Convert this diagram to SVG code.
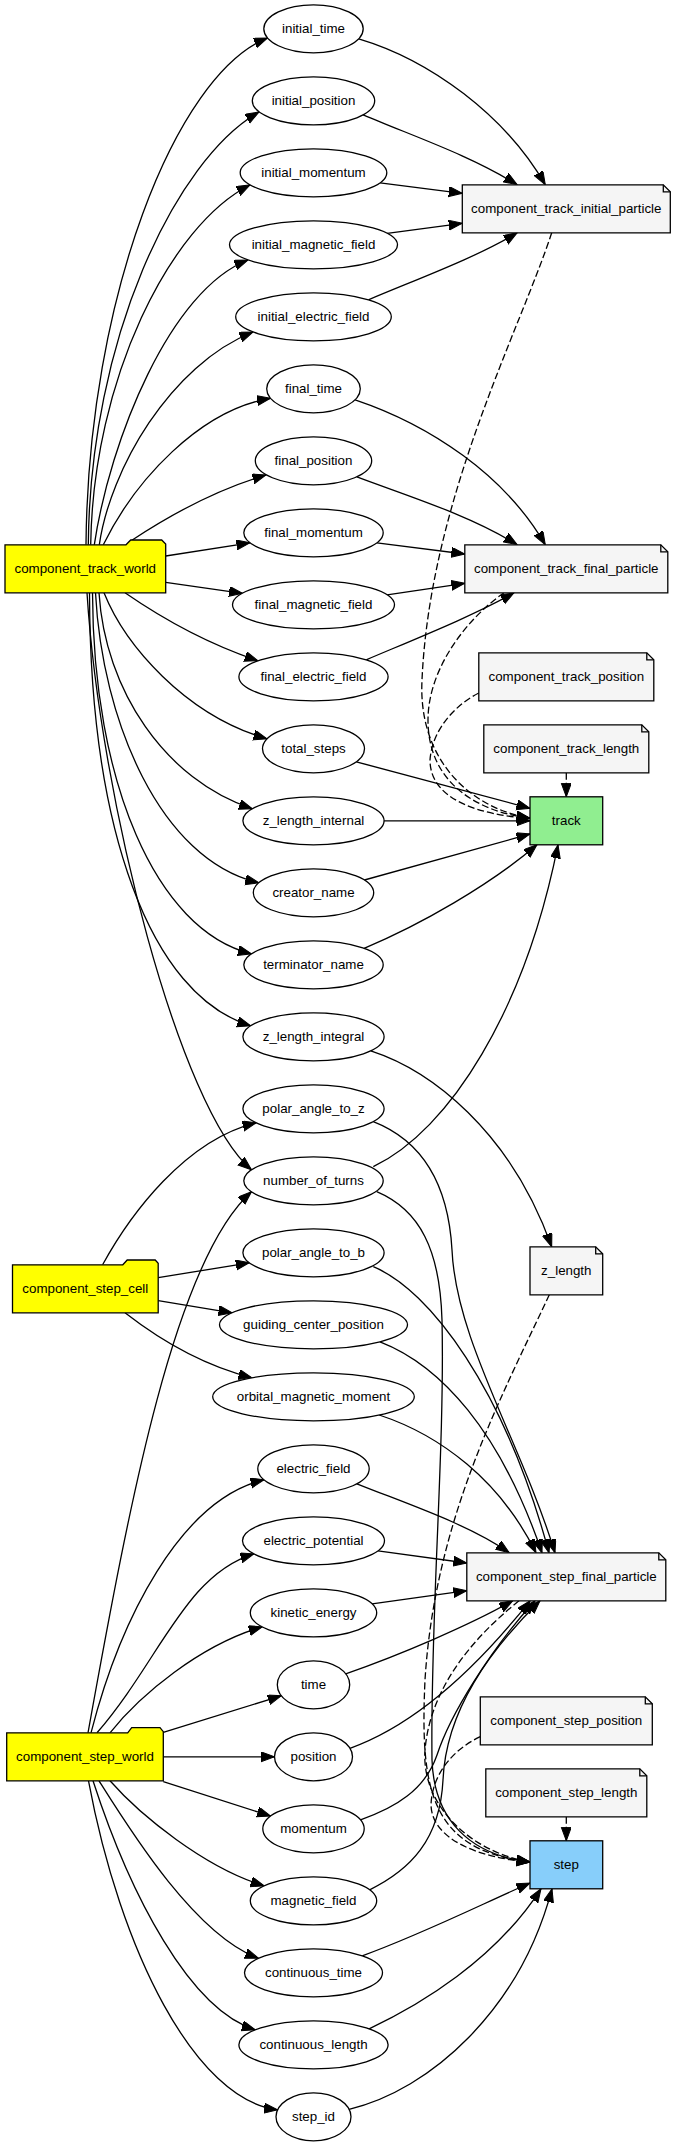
<svg xmlns="http://www.w3.org/2000/svg" width="676" height="2147" viewBox="0 0 676 2147">
<style>
.e{fill:none;stroke:#000;stroke-width:1.3;marker-end:url(#ah)}
.d{stroke-dasharray:7,3}
.el{fill:#fff;stroke:#000;stroke-width:1.3}
.nt{fill:#f5f5f5;stroke:#000;stroke-width:1.3}
.fd{fill:none;stroke:#000;stroke-width:1.3}
.fo{fill:#ffff00;stroke:#000;stroke-width:1.3}
.bx{stroke:#000;stroke-width:1.3}
text{font-family:"Liberation Sans",Arial,Helvetica,sans-serif;font-size:13.33px;text-anchor:middle;fill:#000}
</style>
<defs>
<marker id="ah" markerUnits="userSpaceOnUse" markerWidth="15" markerHeight="12" refX="13.5" refY="5" orient="auto"><path d="M0,0 L13.5,5 L0,10 Z" fill="#000" stroke="#000" stroke-width="1"/></marker>
</defs>
<rect width="676" height="2147" fill="#fff"/>
<g id="edges">
<path class="e" d="M86,544.8 C88,300 175,75 267.5,38"/>
<path class="e" d="M88.3,544.8 C90,340 175,160 259,112"/>
<path class="e" d="M90.7,544.8 C93,380 170,225 250,185"/>
<path class="e" d="M94.3,544.8 C110,440 170,290 248,260"/>
<path class="e" d="M99.3,544.8 C110,470 170,365 253,332"/>
<path class="e" d="M103.3,544.8 C135,480 200,410 270.5,398.3"/>
<path class="e" d="M131.5,540.5 C170,515 215,490 266,475"/>
<path class="e" d="M165.7,556 L250,542.8"/>
<path class="e" d="M165.7,582.3 L242.5,593.3"/>
<path class="e" d="M125,592.8 C160,617 205,643 258,660.8"/>
<path class="e" d="M104,592.8 C125,645 185,715 267,738.8"/>
<path class="e" d="M99,592.8 C105,690 165,780 252.4,808.8"/>
<path class="e" d="M95.5,592.8 C102,720 160,860 258.8,882.8"/>
<path class="e" d="M92.5,592.8 C93,780 155,930 251.5,953.8"/>
<path class="e" d="M89.5,592.8 C90,830 150,995 250.7,1025.8"/>
<path class="e" d="M87,592.8 C100,800 180,1110 251.5,1169.8"/>
<path class="e" d="M102.6,1264.8 C130,1215 185,1140 256.2,1122.8"/>
<path class="e" d="M158.2,1277.7 L249.3,1262.8"/>
<path class="e" d="M158.2,1300.7 L232.1,1312.8"/>
<path class="e" d="M125,1312.8 C160,1340 205,1366 252,1377.8"/>
<path class="e" d="M88,1732.8 C130,1500 175,1260 251.5,1191.8"/>
<path class="e" d="M91,1732.8 C120,1620 180,1500 264,1479.8"/>
<path class="e" d="M97,1732.8 C160,1660 185,1575 253.8,1553.8"/>
<path class="e" d="M110,1732.8 C140,1695 200,1645 262.2,1626.8"/>
<path class="e" d="M163.3,1732.3 L281.3,1695.8"/>
<path class="e" d="M163.3,1756.8 L274.5,1756.8"/>
<path class="e" d="M163.3,1781.7 L270.6,1816"/>
<path class="e" d="M110,1780.8 C140,1815 205,1868 264.2,1885.8"/>
<path class="e" d="M99,1780.8 C130,1830 195,1935 258.5,1958.3"/>
<path class="e" d="M93,1780.8 C130,1895 190,2010 255.3,2029.8"/>
<path class="e" d="M88.5,1780.8 C120,1950 195,2100 277.6,2109.8"/>
<path class="e" d="M358.7,38.8 C430,60 505,115 545.3,184.8"/>
<path class="e" d="M363.2,114.8 C410,135 470,155 517.2,184.8"/>
<path class="e" d="M380.1,182.8 L462.3,193.3"/>
<path class="e" d="M387.2,233.3 L462.3,223.3"/>
<path class="e" d="M368.4,299.8 C420,278 475,258 517.2,232.8"/>
<path class="e" d="M355.1,399.8 C430,425 505,475 545.3,544.8"/>
<path class="e" d="M356.9,476.8 C405,495 470,515 517.2,544.8"/>
<path class="e" d="M376.9,542.8 L464.8,554"/>
<path class="e" d="M387.1,594.8 L464.8,583.3"/>
<path class="e" d="M366.2,659.8 C420,637 475,615 514,592.8"/>
<path class="e" d="M356.3,761.8 L530,808.3"/>
<path class="e" d="M384.1,820.8 L530,820.8"/>
<path class="e" d="M364.4,880 L530,834"/>
<path class="e" d="M364.1,948.3 C420,925 490,885 537,844.8"/>
<path class="e" d="M373.3,1166.7 C450,1130 525,1010 558,844.8"/>
<path class="e d" d="M551.7,232.8 C520,330 430,500 422,680 C418,760 470,808 530,818.3"/>
<path class="e d" d="M504,592.8 C465,620 428,670 428,720 C428,785 480,812 530,818.3"/>
<path class="e d" d="M478.8,693 C455,705 432,730 430,760 C430,800 480,815 530,818.3"/>
<path class="e d" d="M566.3,772.8 L566.3,796.8"/>
<path class="e" d="M370.8,1050.8 C430,1070 510,1130 551.7,1246.8"/>
<path class="e" d="M373.3,1121.7 C420,1140 448,1180 452,1250 C456,1340 520,1440 555,1552.8"/>
<path class="e" d="M373.3,1266.7 C430,1290 505,1390 549,1552.8"/>
<path class="e" d="M380,1341.8 C440,1365 500,1430 542,1552.8"/>
<path class="e" d="M379.2,1415 C440,1435 500,1480 536,1552.8"/>
<path class="e" d="M356.9,1483.8 C410,1505 470,1525 509.3,1552.8"/>
<path class="e" d="M378,1550.8 L466.8,1563"/>
<path class="e" d="M372.1,1603.8 L466.8,1590.7"/>
<path class="e" d="M345.7,1673.8 C400,1655 470,1625 512.7,1600.8"/>
<path class="e" d="M350,1748.3 C415,1725 475,1670 530,1600.8"/>
<path class="e" d="M360.5,1819.8 C395,1808 425,1790 437,1755 C450,1715 490,1650 535,1600.8"/>
<path class="e" d="M369.7,1889.8 C410,1870 440,1840 443,1780 C446,1710 490,1650 540,1600.8"/>
<path class="e" d="M376.7,1191.7 C420,1210 440,1250 442,1320 C445,1450 430,1620 432,1760 C434,1820 470,1855 530,1862"/>
<path class="e d" d="M549.3,1294.8 C500,1400 435,1520 425,1680 C420,1790 430,1850 530,1862"/>
<path class="e d" d="M519,1600.8 C470,1640 430,1690 425,1750 C421,1805 470,1852 530,1862"/>
<path class="e d" d="M480.3,1736.7 C452,1750 432,1775 431,1805 C432,1840 480,1858 530,1862"/>
<path class="e d" d="M566.3,1816.8 L566.3,1840.8"/>
<path class="e" d="M362.2,1955.8 C420,1935 480,1905 530,1883"/>
<path class="e" d="M369.1,2028.8 C420,2005 495,1960 541,1888.8"/>
<path class="e" d="M349.1,2109.3 C430,2090 520,2010 552,1888.8"/>
</g>
<g id="component_track_world"><path class="fo" d="M5,544.8 H126 L130.7,540 H161.7 L165.7,544 V592.8 H5 Z"/><text x="85.3" y="573.3">component_track_world</text></g>
<g id="component_step_cell"><path class="fo" d="M12.5,1264.8 H122.8 L127.2,1260 H155.2 L158.2,1263.3 V1312.8 H12.5 Z"/><text x="85.3" y="1293.3">component_step_cell</text></g>
<g id="component_step_world"><path class="fo" d="M6.7,1732.8 H127.7 L131.7,1727.7 H160 L163.3,1731.7 V1780.8 H6.7 Z"/><text x="85" y="1761.3">component_step_world</text></g>
<g id="initial_time"><ellipse class="el" cx="313.5" cy="28.8" rx="49.7" ry="24"/><text x="313.5" y="33.3">initial_time</text></g>
<g id="initial_position"><ellipse class="el" cx="313.5" cy="100.8" rx="61.2" ry="24"/><text x="313.5" y="105.3">initial_position</text></g>
<g id="initial_momentum"><ellipse class="el" cx="313.5" cy="172.8" rx="73.3" ry="24"/><text x="313.5" y="177.3">initial_momentum</text></g>
<g id="initial_magnetic_field"><ellipse class="el" cx="313.5" cy="244.8" rx="84" ry="24"/><text x="313.5" y="249.3">initial_magnetic_field</text></g>
<g id="initial_electric_field"><ellipse class="el" cx="313.5" cy="316.8" rx="77.8" ry="24"/><text x="313.5" y="321.3">initial_electric_field</text></g>
<g id="final_time"><ellipse class="el" cx="313.5" cy="388.8" rx="46.8" ry="24"/><text x="313.5" y="393.3">final_time</text></g>
<g id="final_position"><ellipse class="el" cx="313.5" cy="460.8" rx="58.2" ry="24"/><text x="313.5" y="465.3">final_position</text></g>
<g id="final_momentum"><ellipse class="el" cx="313.5" cy="532.8" rx="69.7" ry="24"/><text x="313.5" y="537.3">final_momentum</text></g>
<g id="final_magnetic_field"><ellipse class="el" cx="313.5" cy="604.8" rx="81" ry="24"/><text x="313.5" y="609.3">final_magnetic_field</text></g>
<g id="final_electric_field"><ellipse class="el" cx="313.5" cy="676.8" rx="74.6" ry="24"/><text x="313.5" y="681.3">final_electric_field</text></g>
<g id="total_steps"><ellipse class="el" cx="313.5" cy="748.8" rx="51" ry="24"/><text x="313.5" y="753.3">total_steps</text></g>
<g id="z_length_internal"><ellipse class="el" cx="313.5" cy="820.8" rx="70.6" ry="24"/><text x="313.5" y="825.3">z_length_internal</text></g>
<g id="creator_name"><ellipse class="el" cx="313.5" cy="892.8" rx="60.2" ry="24"/><text x="313.5" y="897.3">creator_name</text></g>
<g id="terminator_name"><ellipse class="el" cx="313.5" cy="964.8" rx="69.7" ry="24"/><text x="313.5" y="969.3">terminator_name</text></g>
<g id="z_length_integral"><ellipse class="el" cx="313.5" cy="1036.8" rx="70.6" ry="24"/><text x="313.5" y="1041.3">z_length_integral</text></g>
<g id="polar_angle_to_z"><ellipse class="el" cx="313.5" cy="1108.8" rx="70.6" ry="24"/><text x="313.5" y="1113.3">polar_angle_to_z</text></g>
<g id="number_of_turns"><ellipse class="el" cx="313.5" cy="1180.8" rx="69.7" ry="24"/><text x="313.5" y="1185.3">number_of_turns</text></g>
<g id="polar_angle_to_b"><ellipse class="el" cx="313.5" cy="1252.8" rx="70.6" ry="24"/><text x="313.5" y="1257.3">polar_angle_to_b</text></g>
<g id="guiding_center_position"><ellipse class="el" cx="313.5" cy="1324.8" rx="94" ry="24"/><text x="313.5" y="1329.3">guiding_center_position</text></g>
<g id="orbital_magnetic_moment"><ellipse class="el" cx="313.5" cy="1396.8" rx="100.8" ry="24"/><text x="313.5" y="1401.3">orbital_magnetic_moment</text></g>
<g id="electric_field"><ellipse class="el" cx="313.5" cy="1468.8" rx="55.7" ry="24"/><text x="313.5" y="1473.3">electric_field</text></g>
<g id="electric_potential"><ellipse class="el" cx="313.5" cy="1540.8" rx="71" ry="24"/><text x="313.5" y="1545.3">electric_potential</text></g>
<g id="kinetic_energy"><ellipse class="el" cx="313.5" cy="1612.8" rx="63.2" ry="24"/><text x="313.5" y="1617.3">kinetic_energy</text></g>
<g id="time"><ellipse class="el" cx="313.5" cy="1684.8" rx="36.2" ry="24"/><text x="313.5" y="1689.3">time</text></g>
<g id="position"><ellipse class="el" cx="313.5" cy="1756.8" rx="39" ry="24"/><text x="313.5" y="1761.3">position</text></g>
<g id="momentum"><ellipse class="el" cx="313.5" cy="1828.8" rx="50.7" ry="24"/><text x="313.5" y="1833.3">momentum</text></g>
<g id="magnetic_field"><ellipse class="el" cx="313.5" cy="1900.8" rx="63.2" ry="24"/><text x="313.5" y="1905.3">magnetic_field</text></g>
<g id="continuous_time"><ellipse class="el" cx="313.5" cy="1972.8" rx="69" ry="24"/><text x="313.5" y="1977.3">continuous_time</text></g>
<g id="continuous_length"><ellipse class="el" cx="313.5" cy="2044.8" rx="74.6" ry="24"/><text x="313.5" y="2049.3">continuous_length</text></g>
<g id="step_id"><ellipse class="el" cx="313.5" cy="2116.8" rx="37.5" ry="24"/><text x="313.5" y="2121.3">step_id</text></g>
<g id="component_track_initial_particle"><path class="nt" d="M462.3,184.8 H663.3 L670.3,191.8 V232.8 H462.3 Z"/><path class="fd" d="M663.3,184.8 V191.8 H670.3"/><text x="566.3" y="213.3">component_track_initial_particle</text></g>
<g id="component_track_final_particle"><path class="nt" d="M464.8,544.8 H660.8 L667.8,551.8 V592.8 H464.8 Z"/><path class="fd" d="M660.8,544.8 V551.8 H667.8"/><text x="566.3" y="573.3">component_track_final_particle</text></g>
<g id="component_track_position"><path class="nt" d="M478.8,652.8 H646.8 L653.8,659.8 V700.8 H478.8 Z"/><path class="fd" d="M646.8,652.8 V659.8 H653.8"/><text x="566.3" y="681.3">component_track_position</text></g>
<g id="component_track_length"><path class="nt" d="M483.8,724.8 H641.8 L648.8,731.8 V772.8 H483.8 Z"/><path class="fd" d="M641.8,724.8 V731.8 H648.8"/><text x="566.3" y="753.3">component_track_length</text></g>
<g id="track"><rect class="bx" x="530" y="796.8" width="72.7" height="48" fill="#90ee90"/><text x="566.3" y="825.3">track</text></g>
<g id="z_length"><path class="nt" d="M530,1246.8 H595.7 L602.7,1253.8 V1294.8 H530 Z"/><path class="fd" d="M595.7,1246.8 V1253.8 H602.7"/><text x="566.3" y="1275.3">z_length</text></g>
<g id="component_step_final_particle"><path class="nt" d="M466.8,1552.8 H658.8 L665.8,1559.8 V1600.8 H466.8 Z"/><path class="fd" d="M658.8,1552.8 V1559.8 H665.8"/><text x="566.3" y="1581.3">component_step_final_particle</text></g>
<g id="component_step_position"><path class="nt" d="M480.3,1696.8 H645.3 L652.3,1703.8 V1744.8 H480.3 Z"/><path class="fd" d="M645.3,1696.8 V1703.8 H652.3"/><text x="566.3" y="1725.3">component_step_position</text></g>
<g id="component_step_length"><path class="nt" d="M485.8,1768.8 H639.8 L646.8,1775.8 V1816.8 H485.8 Z"/><path class="fd" d="M639.8,1768.8 V1775.8 H646.8"/><text x="566.3" y="1797.3">component_step_length</text></g>
<g id="step"><rect class="bx" x="530" y="1840.8" width="72.7" height="48" fill="#87cefa"/><text x="566.3" y="1869.3">step</text></g>
</svg>
